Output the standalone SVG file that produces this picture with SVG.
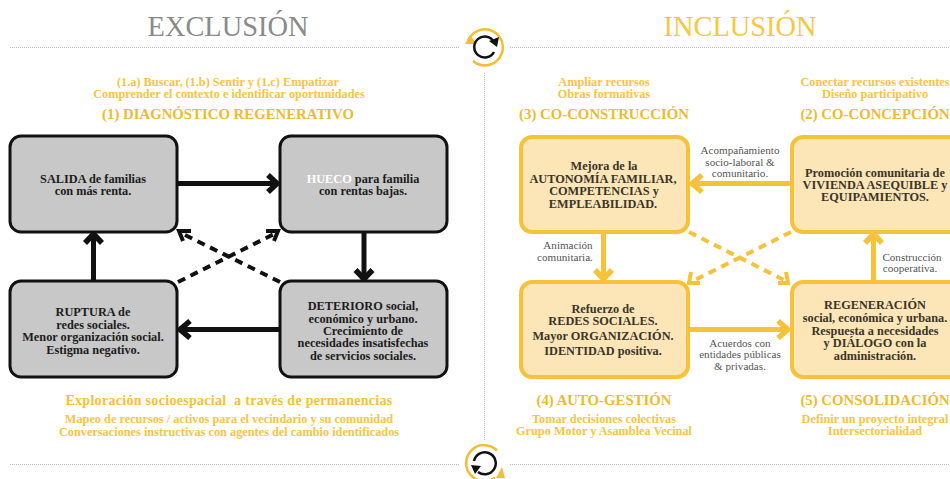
<svg xmlns="http://www.w3.org/2000/svg" width="950" height="479" viewBox="0 0 950 479">
<style>
text{font-family:"Liberation Serif","Times New Roman",serif;text-anchor:middle}
.title{font-size:28.4px}
.sub{font-size:12.3px;font-weight:bold;fill:#f9c440}
.head{font-size:14.8px;font-weight:bold;fill:#eebb2e}
.foot{font-size:14px;letter-spacing:.3px;font-weight:bold;fill:#f6c136;white-space:pre}
.b{font-size:12.3px;font-weight:bold;fill:#1c1c1c}
.y{font-size:12.3px;font-weight:bold;fill:#3a3428}
.l{font-size:11.1px;fill:#555}
.gbox{fill:#c8c8c8;stroke:#111;stroke-width:3}
.ybox{fill:#fce6b8;stroke:#f8c13a;stroke-width:4}
.rule{stroke:#bbb;stroke-width:1;stroke-dasharray:1 1;fill:none}
.ka{stroke:#111;stroke-width:5;fill:none}
.kd{stroke:#111;stroke-width:4;stroke-dasharray:8 6;fill:none}
.kh{stroke:#111;stroke-width:5.500;fill:none}
.kt{stroke:#111;stroke-width:4;fill:none}
.ya{stroke:#f8c13a;stroke-width:5;fill:none}
.yh{stroke:#f8c13a;stroke-width:5.500;fill:none}
.yd{stroke:#f8c13a;stroke-width:4;stroke-dasharray:8 6;fill:none}
</style>
<rect width="950" height="479" fill="#fff"/>
<g id="rules">
<path class="rule" d="M10 47.500H460M510 47.500H950M10 464.500H460M510 464.500H950M484.500 73V440"/>
</g>
<text class="title" x="228" y="36" fill="#8a8a8a">EXCLUSIÓN</text>
<text class="title" x="740" y="36" fill="#f8c740">INCLUSIÓN</text>

<g id="icon-top" fill="none">
<path d="M468 41A18 18 0 1 1 473 61" stroke="#f4bd35" stroke-width="2.500"/>
<path d="M465 44L477 44L470 35Z" fill="#f4bd35"/>
<path d="M494 42A10.500 10.500 0 1 0 494 52" stroke="#111" stroke-width="2.500"/>
<path d="M489 41L499 37L497 47Z" fill="#111"/>
</g>
<g id="icon-bottom" fill="none">
<path d="M497 450.500A18 18 0 1 0 495 477.500" stroke="#f4bd35" stroke-width="2.500"/>
<path d="M502 467L496 478L505 478Z" fill="#f4bd35"/>
<path d="M474 461A11 11 0 1 1 478 472" stroke="#111" stroke-width="2.500"/>
<path d="M471 465L481 466L475 474Z" fill="#111"/>
</g>

<g id="connectors">
<path class="ka" d="M177 183.500H276"/><path class="kh" d="M268 175L277 183.500L268 192"/>
<path class="ka" d="M364 232V279"/><path class="kh" d="M355.500 270L364 279L372.500 270"/>
<path class="ka" d="M280 329.500H181"/><path class="kh" d="M190 321L180 329.500L190 338"/>
<path class="ka" d="M93.500 281V234"/><path class="kh" d="M85 243L93.500 234L102 243"/>
<path class="kd" d="M178 282L274 234"/><path class="kt" d="M266 231L278 231L274 241"/>
<path class="kd" d="M280 282L183 234"/><path class="kt" d="M191 231L179 231L183 241"/>
<path class="ya" d="M791 183.500H694"/><path class="yh" d="M702 175L692 183.500L702 192"/>
<path class="ya" d="M603.500 232V279"/><path class="yh" d="M595 270L603.500 279L612 270"/>
<path class="ya" d="M689 329.500H786"/><path class="yh" d="M778 321L788 329.500L778 338"/>
<path class="ya" d="M873.500 281V234"/><path class="yh" d="M865 243L873.500 234L882 243"/>
<path class="yd" d="M689 232L784 280"/><path class="kt" style="stroke:#f8c13a" d="M786 272L788 283L778 283"/>
<path class="yd" d="M791 232L695 280"/><path class="kt" style="stroke:#f8c13a" d="M691 272L689 283L700 283"/>
</g>

<g id="diag-head">
<text class="sub" x="228" y="86">(1.a) Buscar, (1.b) Sentir y (1.c) Empatizar</text>
<text class="sub" x="229" y="98">Comprender el contexto e identificar oportunidades</text>
<text class="head" x="228" y="119">(1) DIAGNÓSTICO REGENERATIVO</text>
</g>
<g id="gbox1"><rect class="gbox" x="10" y="136" width="167" height="96" rx="11"/>
<text class="b" x="93" y="183">SALIDA de familias</text><text class="b" x="93" y="195">con más renta.</text></g>
<g id="gbox2"><rect class="gbox" x="280" y="136" width="167" height="96" rx="11"/>
<text class="b" x="363" y="183"><tspan fill="#fff">HUECO</tspan> para familia</text><text class="b" x="363" y="195">con rentas bajas.</text></g>
<g id="gbox3"><rect class="gbox" x="10" y="281" width="167" height="96" rx="11"/>
<text class="b" x="93" y="316">RUPTURA de</text><text class="b" x="93" y="329">redes sociales.</text><text class="b" x="93" y="341">Menor organización social.</text><text class="b" x="93" y="354">Estigma negativo.</text></g>
<g id="gbox4"><rect class="gbox" x="280" y="281" width="167" height="96" rx="11"/>
<text class="b" x="363" y="310">DETERIORO social,</text><text class="b" x="363" y="323">económico y urbano.</text><text class="b" x="363" y="335">Crecimiento de</text><text class="b" x="363" y="347">necesidades insatisfechas</text><text class="b" x="363" y="360">de servicios sociales.</text></g>
<g id="diag-foot">
<text class="foot" x="229" y="405">Exploración socioespacial  a través de permanencias</text>
<text class="sub" x="229" y="423">Mapeo de recursos / activos para el vecindario y su comunidad</text>
<text class="sub" x="229" y="436">Conversaciones instructivas con agentes del cambio identificados</text>
</g>

<g id="cocons-head">
<text class="sub" x="604" y="86">Ampliar recursos</text><text class="sub" x="604" y="98">Obras formativas</text>
<text class="head" x="604" y="119">(3) CO-CONSTRUCCIÓN</text></g>
<g id="cocon-head">
<text class="sub" x="875" y="86">Conectar recursos existentes</text><text class="sub" x="875" y="98">Diseño participativo</text>
<text class="head" x="875" y="119">(2) CO-CONCEPCIÓN</text></g>
<g id="ybox3"><rect class="ybox" x="521" y="137" width="167" height="95" rx="11"/>
<text class="y" x="604" y="170">Mejora de la</text><text class="y" x="603" y="183">AUTONOMÍA FAMILIAR,</text><text class="y" x="604" y="195">COMPETENCIAS y</text><text class="y" x="603" y="208">EMPLEABILIDAD.</text></g>
<g id="ybox2"><rect class="ybox" x="792" y="137" width="175" height="95" rx="11"/>
<text class="y" x="875" y="177">Promoción comunitaria de</text><text class="y" x="875" y="189">VIVIENDA ASEQUIBLE y</text><text class="y" x="875" y="201">EQUIPAMIENTOS.</text></g>
<g id="ybox4"><rect class="ybox" x="521" y="282" width="167" height="95" rx="11"/>
<text class="y" x="603" y="313">Refuerzo de</text><text class="y" x="603" y="325">REDES SOCIALES.</text><text class="y" x="603" y="340">Mayor ORGANIZACIÓN.</text><text class="y" x="603" y="355">IDENTIDAD positiva.</text></g>
<g id="ybox5"><rect class="ybox" x="792" y="282" width="175" height="95" rx="11"/>
<text class="y" x="875" y="309">REGENERACIÓN</text><text class="y" x="875" y="322">social, económica y urbana.</text><text class="y" x="875" y="335">Respuesta a necesidades</text><text class="y" x="875" y="347">y DIÁLOGO con la</text><text class="y" x="875" y="360">administración.</text></g>
<g id="auto-foot">
<text class="head" x="604" y="405">(4) AUTO-GESTIÓN</text>
<text class="sub" x="604" y="423">Tomar decisiones colectivas</text><text class="sub" x="604" y="435">Grupo Motor y Asamblea Vecinal</text></g>
<g id="conso-foot">
<text class="head" x="875" y="405">(5) CONSOLIDACIÓN</text>
<text class="sub" x="875" y="423">Definir un proyecto integral</text><text class="sub" x="875" y="435">Intersectorialidad</text></g>
<g id="labels">
<text class="l" x="740" y="154">Acompañamiento</text><text class="l" x="740" y="166">socio-laboral &amp;</text><text class="l" x="740" y="177">comunitario.</text>
<text class="l" x="568" y="249">Animación</text><text class="l" x="565" y="261">comunitaria.</text>
<text class="l" x="912" y="261">Construcción</text><text class="l" x="910" y="272">cooperativa.</text>
<text class="l" x="740" y="347">Acuerdos con</text><text class="l" x="740" y="358">entidades públicas</text><text class="l" x="740" y="370">&amp; privadas.</text>
</g>
</svg>
